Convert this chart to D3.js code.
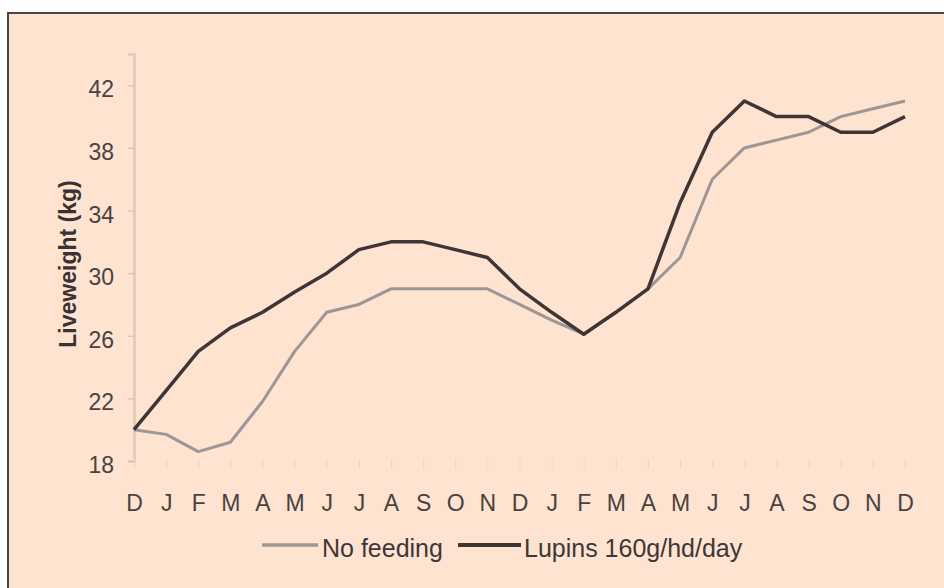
<!DOCTYPE html>
<html>
<head>
<meta charset="utf-8">
<script src="https://cdn.jsdelivr.net/npm/d3@7"></script>
<style>
  html, body { margin: 0; padding: 0; background: #ffffff; }
  svg { display: block; }
  text { font-family: "Liberation Sans", Arial, sans-serif; }
</style>
</head>
<body>
<svg id="chart" width="944" height="588"></svg>
<script>
const months = ["D","J","F","M","A","M","J","J","A","S","O","N","D","J","F","M","A","M","J","J","A","S","O","N","D"];
const noFeeding = [20, 19.7, 18.6, 19.2, 21.8, 25, 27.5, 28, 29, 29, 29, 29, 28, 27, 26.1, 27.5, 29, 31, 36, 38, 38.5, 39, 40, 40.5, 41];
const lupins = [20, 22.5, 25, 26.5, 27.5, 28.8, 30, 31.5, 32, 32, 31.5, 31, 29, 27.5, 26.1, 27.5, 29, 34.5, 39, 41, 40, 40, 39, 39, 40];
const yTicks = [18, 22, 26, 30, 34, 38, 42];
const seriesNames = ["No feeding", "Lupins 160g/hd/day"];
const seriesColors = ["#9d9694", "#3f3535"];

const svg = d3.select("#chart");
const W = 944, H = 588;

// frame / background
svg.append("rect").attr("x", 0).attr("y", 0).attr("width", W).attr("height", H).attr("fill", "#ffffff");
svg.append("rect").attr("x", 8).attr("y", 13).attr("width", W + 20).attr("height", H + 20)
  .attr("fill", "#fde3d0").attr("stroke", "#4a4444").attr("stroke-width", 2);

const idx = d3.range(months.length);
const x = d3.scalePoint().domain(idx).range([134, 905]);
const y = d3.scaleLinear().domain([18, 44]).range([461, 54]);

// y axis
const yAxis = d3.axisLeft(y).tickValues(yTicks).tickSize(6).tickPadding(14).tickFormat(d3.format("d"));
const gy = svg.append("g").attr("transform", "translate(134,0)").call(yAxis);
gy.select(".domain").attr("stroke", "#e0c9b9").attr("stroke-width", 2.5);
gy.selectAll(".tick line").attr("stroke", "#d9c2b2").attr("stroke-width", 1.2);
gy.selectAll(".tick text").attr("fill", "#4a4242").style("font-size", "23px").attr("dy", "0.5em");

// x axis (faint ticks, no domain line)
const xAxis = d3.axisBottom(x).tickSize(10).tickPadding(26).tickFormat(i => months[i]);
const gx = svg.append("g").attr("transform", "translate(0,459)").call(xAxis);
gx.select(".domain").remove();
gx.selectAll(".tick line").attr("stroke", "#eed8c8").attr("stroke-width", 1.2);
gx.selectAll(".tick text").attr("fill", "#4a4242").style("font-size", "23px");

// y title
svg.append("text")
  .attr("transform", "translate(76,264) rotate(-90)")
  .attr("text-anchor", "middle")
  .attr("fill", "#3a3232")
  .style("font-size", "23px").style("font-weight", "bold")
  .text("Liveweight (kg)");

// lines
const line = d3.line().x((d, i) => x(i)).y(d => y(d));
[noFeeding, lupins].forEach((s, k) => {
  svg.append("path").datum(s).attr("d", line)
    .attr("fill", "none").attr("stroke", seriesColors[k])
    .attr("stroke-width", k === 0 ? 3 : 3.5)
    .attr("stroke-linejoin", "round");
});

// legend
const legendItems = [
  { x1: 262, x2: 318, tx: 322 },
  { x1: 458, x2: 521, tx: 524 }
];
legendItems.forEach((it, k) => {
  svg.append("line").attr("x1", it.x1).attr("x2", it.x2).attr("y1", 545).attr("y2", 545)
    .attr("stroke", seriesColors[k]).attr("stroke-width", k === 0 ? 3.5 : 4);
  svg.append("text").attr("x", it.tx).attr("y", 557).attr("fill", "#3f3737")
    .style("font-size", "25px").text(seriesNames[k]);
});
</script>
</body>
</html>
